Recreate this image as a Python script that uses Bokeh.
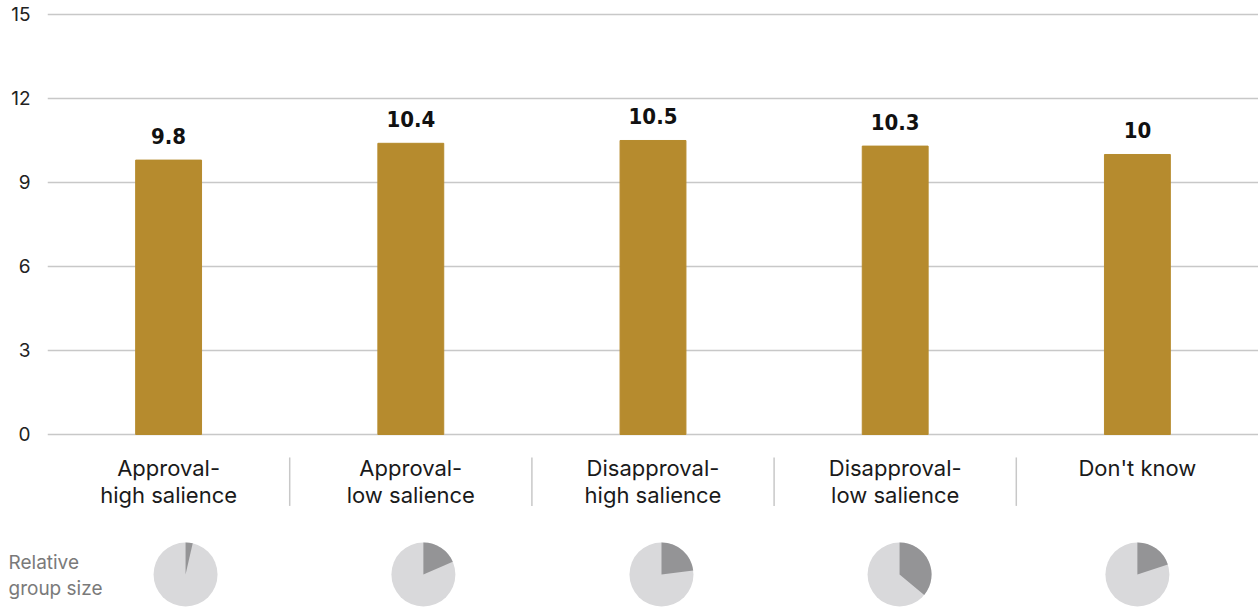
from bokeh.plotting import figure
from bokeh.layouts import column
from bokeh.models import Range1d, FactorRange, FixedTicker, ColumnDataSource, Label
from bokeh.core.properties import value
from bokeh.embed import file_html
from bokeh.resources import INLINE
import math

categories = ["Approval-high salience", "Approval-low salience", "Disapproval-high salience",
              "Disapproval-low salience", "Don't know"]
line1 = ["Approval-", "Approval-", "Disapproval-", "Disapproval-", "Don't know"]
line2 = ["high salience", "low salience", "high salience", "low salience", ""]
values = [9.8, 10.4, 10.5, 10.3, 10]
value_labels = ["9.8", "10.4", "10.5", "10.3", "10"]
group_share = [0.036, 0.185, 0.23, 0.36, 0.20]
y_ticks = [0, 3, 6, 9, 12, 15]

BAR = "#b68b2e"
GRID = "#c8c8c8"
FONT = "Inter"
LEFT = 47
W = 1258
PX_PER_CAT = (W - LEFT) / 5.0

p = figure(width=W, height=530, x_range=FactorRange(*categories),
           y_range=Range1d(-3.4286, 15.5), output_backend="svg", toolbar_location=None,
           x_axis_location=None, min_border_left=LEFT, min_border_right=0,
           min_border_top=0, min_border_bottom=0)
p.outline_line_color = None
p.xgrid.grid_line_color = None
p.ygrid.grid_line_color = GRID
p.ygrid.grid_line_width = 1.5
p.yaxis.ticker = FixedTicker(ticks=y_ticks)
p.yaxis.axis_line_color = None
p.yaxis.major_tick_in = 0
p.yaxis.major_tick_out = 0
p.yaxis.minor_tick_line_color = None
p.yaxis.major_label_standoff = 17
p.yaxis.major_label_text_font = FONT
p.yaxis.major_label_text_font_size = "19px"
p.yaxis.major_label_text_color = "#222222"

src = ColumnDataSource(dict(cat=categories, val=values, lab=value_labels,
                            l1=line1, l2=line2))
p.vbar(x="cat", top="val", bottom=0, width=0.272, color=BAR, source=src)
p.text(x="cat", y="val", text="lab", source=src, text_align="center", text_baseline="bottom",
       y_offset=-16, text_font=value("'DejaVu Sans Condensed', 'Roboto'"), text_font_style="bold",
       text_font_size="22px", text_color="#111111")

p.text(x="cat", y=-1.18, text="l1", source=src, text_align="center", text_baseline="middle",
       text_font=value(FONT), text_font_size="22px", text_color="#1a1a1a")
p.text(x="cat", y=-2.15, text="l2", source=src, text_align="center", text_baseline="middle",
       text_font=value(FONT), text_font_size="22px", text_color="#1a1a1a")

seps = [1, 2, 3, 4]
p.segment(x0=seps, y0=[-0.82] * 4, x1=seps, y1=[-2.55] * 4, line_color=GRID, line_width=1.5)

# lower strip: relative group size pies (own frame spanning the full width)
q = figure(width=W, height=77, x_range=Range1d(-LEFT / PX_PER_CAT, 5), y_range=Range1d(0, 77),
           output_backend="svg", toolbar_location=None, x_axis_location=None,
           y_axis_location=None, min_border_left=0, min_border_right=0,
           min_border_top=0, min_border_bottom=0, align="start")
q.outline_line_color = None
q.grid.grid_line_color = None

pie_x = [0.57, 1.552, 2.535, 3.518, 4.5]
q.circle(x=pie_x, y=[33] * 5, radius=32, radius_units="screen", fill_color="#d9d9db",
         line_color=None)
starts = [math.pi / 2 - f * 2 * math.pi for f in group_share]
q.wedge(x=pie_x, y=[33] * 5, radius=32, radius_units="screen", start_angle=starts,
        end_angle=[math.pi / 2] * 5, fill_color="#949496", line_color=None)

for txt, yy in [("Relative", 562), ("group size", 588)]:
    q.add_layout(Label(x=8, y=607 - yy, x_units="screen", y_units="screen", text=txt,
                       text_baseline="middle", text_font=FONT, text_font_size="19px",
                       text_color="#7a7a7a"))

layout = column(p, column(q), spacing=0)
open("out.html", "w").write(file_html(layout, INLINE))
